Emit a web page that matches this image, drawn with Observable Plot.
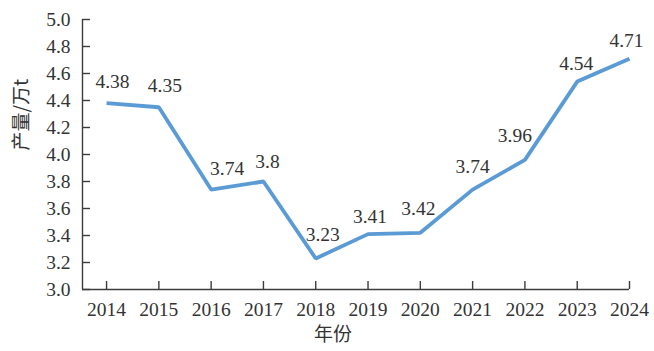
<!DOCTYPE html>
<html>
<head>
<meta charset="utf-8">
<script src="https://cdn.jsdelivr.net/npm/d3@7"></script>
<script src="https://cdn.jsdelivr.net/npm/@observablehq/plot@0.6"></script>
<style>
  html, body { margin: 0; padding: 0; background: #fff; }
  #chart svg { display: block; }
</style>
</head>
<body>
<div id="chart"></div>
<script>
// Data
const years = [2014, 2015, 2016, 2017, 2018, 2019, 2020, 2021, 2022, 2023, 2024];
const production = [4.38, 4.35, 3.74, 3.8, 3.23, 3.41, 3.42, 3.74, 3.96, 4.54, 4.71];
const valueLabels = ["4.38", "4.35", "3.74", "3.8", "3.23", "3.41", "3.42", "3.74", "3.96", "4.54", "4.71"];
const yTicks = [3.0, 3.2, 3.4, 3.6, 3.8, 4.0, 4.2, 4.4, 4.6, 4.8, 5.0];
const yTitle = "产量/万t";
const xTitle = "年份";

// Label nudges (pixels), as placed in the reference
const labelDx = [6, 6, 16, 4, 7, 2, -2, 0, -10, -1, -3];
const labelDy = [-21, -22, -21, -20, -24, -17, -24, -23, -24, -18, -18];

const font = "Liberation Serif, Times New Roman, Times, DejaVu Serif, serif";
const cjkFont = "Noto Sans CJK SC, sans-serif";
const axisColor = "#3c3c3c";
const lineColor = "#5b9bd5";

const xMin = years[0] - 0.46;
const idx = years.map((_, i) => i);

const labelMarks = idx.map(i =>
  Plot.text([i], {
    x: j => years[j],
    y: j => production[j],
    text: j => valueLabels[j],
    dx: labelDx[i],
    dy: labelDy[i],
    fontSize: 19.5,
    fontFamily: font,
    fill: "#333"
  })
);

const chart = Plot.plot({
  width: 654,
  height: 351,
  marginLeft: 82,
  marginRight: 25,
  marginTop: 19,
  marginBottom: 62,
  style: { fontFamily: font, fontSize: "19.5px", color: "#333", background: "#fff" },
  x: { type: "linear", domain: [xMin, years[years.length - 1]], label: null },
  y: { domain: [3, 5], label: null },
  marks: [
    Plot.ruleY([3], { stroke: axisColor, strokeWidth: 1.4 }),
    Plot.ruleX([xMin], { y1: 3, y2: 5, stroke: axisColor, strokeWidth: 1.4 }),
    Plot.axisY({ ticks: yTicks, tickSize: 8, dx: 8, tickFormat: () => "", stroke: axisColor, strokeWidth: 1.4, label: null }),
    Plot.axisY({ ticks: yTicks, tickSize: 0, tickPadding: 12, tickFormat: d => d.toFixed(1), fontSize: 19.5, fontFamily: font, fill: "#333", label: null }),
    Plot.axisX({ ticks: years, tickSize: 8, dy: -8, tickFormat: () => "", stroke: axisColor, strokeWidth: 1.4, label: null }),
    Plot.axisX({ ticks: years, tickSize: 0, tickPadding: 13, tickFormat: d => String(d), fontSize: 19.5, fontFamily: font, fill: "#333", label: null }),
    Plot.line(idx, {
      x: i => years[i],
      y: i => production[i],
      stroke: lineColor,
      strokeWidth: 3.8,
      strokeLinejoin: "miter",
      strokeLinecap: "butt"
    }),
    ...labelMarks,
    Plot.text([yTitle], { text: d => d, frameAnchor: "left", rotate: -90, dx: -61, dy: -4, fontSize: 19, fontFamily: cjkFont, fill: "#333" }),
    Plot.text([xTitle], { text: d => d, frameAnchor: "bottom", dx: -23, dy: 51, fontSize: 19, fontFamily: cjkFont, fill: "#333" })
  ]
});

document.getElementById("chart").appendChild(chart);
</script>
</body>
</html>
